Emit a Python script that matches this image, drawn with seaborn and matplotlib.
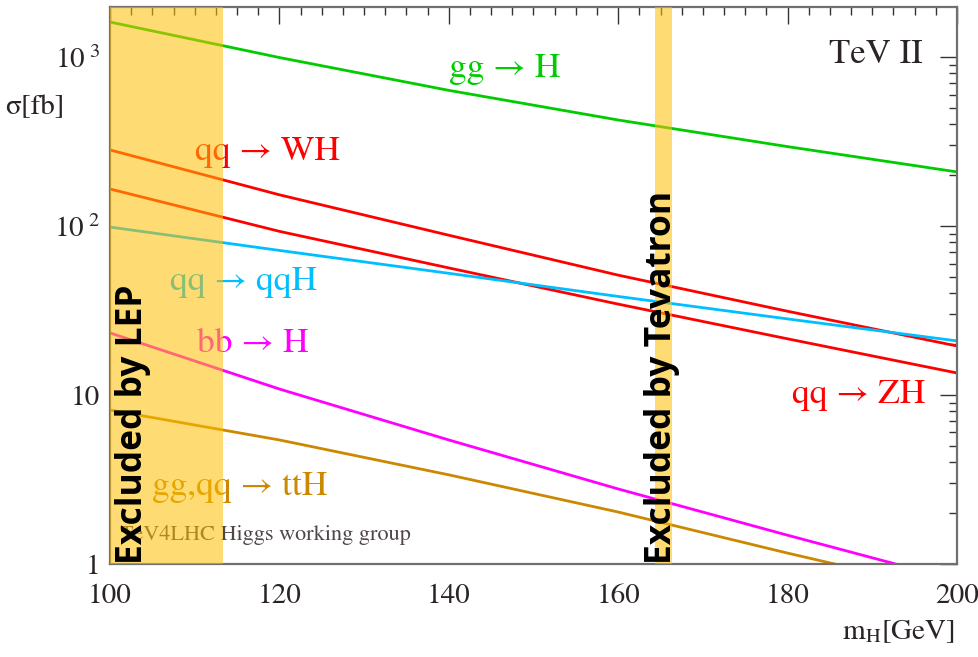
import numpy as np
import pandas as pd
import matplotlib
matplotlib.use("Agg")
import matplotlib.pyplot as plt
import seaborn as sns
from matplotlib.ticker import FixedLocator, FixedFormatter, LogLocator, NullFormatter, MultipleLocator

# ---------------- data ----------------
mH = [100, 120, 140, 160, 180, 200]
sigma_ggH = [1611, 993, 635, 424, 295, 209]
sigma_WH = [282, 153, 88.2, 51.2, 31.3, 19.5]
sigma_ZH = [165.6, 93, 56.5, 34.5, 21.5, 13.5]
sigma_qqH = [98.6, 71.7, 52.5, 38.3, 28.2, 20.9]
sigma_bbH = [23.3, 10.85, 5.42, 2.78, 1.48, 0.80]
sigma_ttH = [8.15, 5.42, 3.37, 2.03, 1.16, 0.68]

processes = ["gg → H", "qq → WH", "qq → ZH", "qq → qqH", "bb → H", "gg,qq → ttH"]
colors = ["#00CC00", "#FF0000", "#FF0000", "#00BFFF", "#FF00FF", "#CC8800"]

x_ticks = [100, 120, 140, 160, 180, 200]
x_ticklabels = ["100", "120", "140", "160", "180", "200"]
y_ticks = [1, 10, 100, 1000]
y_ticklabels = ["1", "10", r"$\mathregular{10^{\ 2}}$", r"$\mathregular{10^{\ 3}}$"]

lep_band = (100, 113.3)
tev_band = (164.4, 166.3)

# ---------------- style ----------------
sns.set_style("white")
plt.rcParams["font.family"] = ["STIXGeneral", "Liberation Serif", "DejaVu Serif"]
plt.rcParams["mathtext.fontset"] = "stix"

series = [sigma_ggH, sigma_WH, sigma_ZH, sigma_qqH, sigma_bbH, sigma_ttH]
df = pd.concat(
    [pd.DataFrame({"mH": mH, "sigma": s, "process": p}) for s, p in zip(series, processes)],
    ignore_index=True,
)

fig = plt.figure(figsize=(9.79, 6.57), dpi=100)
ax = fig.add_axes([110 / 979, 1 - 564 / 657, (957 - 110) / 979, (564 - 7) / 657])

sns.lineplot(data=df, x="mH", y="sigma", hue="process", hue_order=processes,
             palette=dict(zip(processes, colors)), ax=ax, legend=False,
             linewidth=2.0, zorder=2)

ax.set_yscale("log")
ax.set_xlim(100, 200)
ax.set_ylim(1, 1977)

# ticks
ax.xaxis.set_major_locator(FixedLocator(x_ticks))
ax.xaxis.set_major_formatter(FixedFormatter(x_ticklabels))
ax.xaxis.set_minor_locator(MultipleLocator(2.5))
ax.yaxis.set_major_locator(FixedLocator(y_ticks))
ax.yaxis.set_major_formatter(FixedFormatter(y_ticklabels))
ax.yaxis.set_minor_locator(LogLocator(base=10, subs=np.arange(2, 10)))
ax.yaxis.set_minor_formatter(NullFormatter())

ax.tick_params(which="both", direction="in", top=True, right=True,
               color="#333333", width=1.0)
ax.tick_params(which="major", length=12)
ax.tick_params(which="minor", length=6)
ax.tick_params(axis="x", which="major", pad=14, labelsize=21, labelcolor="#2b2424")
ax.tick_params(axis="y", which="major", pad=7, labelsize=21, labelcolor="#2b2424")

for sp in ax.spines.values():
    sp.set_color("#707070")
    sp.set_linewidth(1.6)
ax.set_xlabel("")
ax.set_ylabel("")

def xpx(px):
    return 100 + (px - 110) / 8.47

# process labels
lab_fs = 25.5
ax.text(xpx(505), 762, "gg → H", color="#00CC00", fontsize=lab_fs, ha="center", va="baseline", zorder=3)
ax.text(xpx(195), 246, "qq → WH", color="#FF0000", fontsize=lab_fs, ha="left", va="baseline", zorder=3)
ax.text(xpx(170), 41.8, "qq → qqH", color="#00BFFF", fontsize=lab_fs, ha="left", va="baseline", zorder=3)
ax.text(xpx(197), 17.9, "bb → H", color="#FF00FF", fontsize=lab_fs, ha="left", va="baseline", zorder=3)
ax.text(xpx(152), 2.56, "gg,qq → ttH", color="#CC8800", fontsize=lab_fs, ha="left", va="baseline", zorder=3)
ax.text(xpx(925), 8.97, "qq → ZH", color="#FF0000", fontsize=lab_fs, ha="right", va="baseline", zorder=3)
ax.text(xpx(923), 921, "TeV II", color="#2b2424", fontsize=25, ha="right", va="baseline", zorder=3)
ax.text(xpx(120), 1.39, "TeV4LHC Higgs working group", color="#504646", fontsize=16,
        ha="left", va="baseline", zorder=3)

# exclusion bands (semi-transparent overlay on top of curves)
ax.axvspan(*lep_band, color="#FFBE00", alpha=0.55, lw=0, zorder=4)
ax.axvspan(*tev_band, color="#FFBE00", alpha=0.55, lw=0, zorder=4)

ax.text(xpx(133), 1.0, "Excluded by LEP", rotation=90, ha="center", va="bottom",
        fontsize=25.5, fontweight="bold", family=["Open Sans", "DejaVu Sans"], color="black", zorder=5)
ax.text(xpx(662), 1.0, "Excluded by Tevatron", rotation=90, ha="center", va="bottom",
        fontsize=25.5, fontweight="bold", family=["Open Sans", "DejaVu Sans"], color="black", zorder=5)

# axis titles
fig.text(5 / 979, 1 - 108 / 657, "σ[fb]", fontsize=21, ha="left", va="center", color="#2b2424")
fig.text(955 / 979, 1 - 632 / 657, r"$\mathregular{m_{H}}$[GeV]", fontsize=21, ha="right",
         va="center", color="#2b2424")

fig.savefig("out.png", dpi=100)
